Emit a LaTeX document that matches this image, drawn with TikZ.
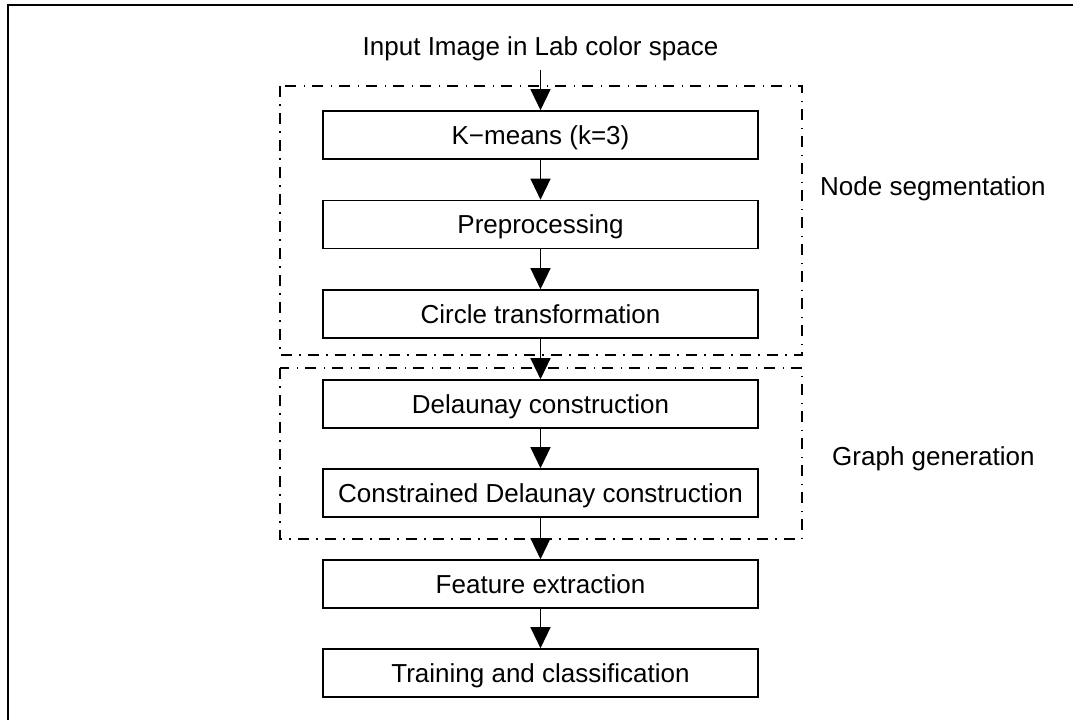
\documentclass[tikz,border=0pt]{standalone}
\usepackage{fontspec}
\setmainfont{Liberation Sans}
\usetikzlibrary{arrows.meta}

\begin{document}
\begin{tikzpicture}[x=1pt, y=-1pt,
  font=\fontsize{26}{31}\selectfont,
  stage/.style={draw, line width=1.6pt, minimum width=435pt, minimum height=48pt,
    inner sep=0pt, text height=18.5pt, text depth=0pt},
  flow/.style={line width=1.3pt, -{Triangle[width=20pt,length=21pt]}},
  group/.style={line width=1.5pt, dash pattern=on 11pt off 7pt on 1.5pt off 7.5pt}]
\useasboundingbox (0,0) rectangle (1073,720);

% outer frame
\draw[line width=2pt] (8,720) -- (8,5) -- (1073,5);

% processing stages
\node[inner sep=9.5pt, anchor=base] (input) at (540.5,55) {Input Image in Lab color space};
\node[stage] (kmeans) at (540.5,135) {K\textminus means (k=3)};
\node[stage] (prep) at (540.5,224.5) {Preprocessing};
\node[stage] (circ) at (540.5,314) {Circle transformation};
\node[stage] (delaunay) at (540.5,404) {Delaunay construction};
\node[stage] (cdelaunay) at (540.5,493) {Constrained Delaunay construction};
\node[stage] (feat) at (540.5,584) {Feature extraction};
\node[stage] (train) at (540.5,673) {Training and classification};

\draw[flow] (input) -- (kmeans);
\draw[flow] (kmeans) -- (prep);
\draw[flow] (prep) -- (circ);
\draw[flow] (circ) -- (delaunay);
\draw[flow] (delaunay) -- (cdelaunay);
\draw[flow] (cdelaunay) -- (feat);
\draw[flow] (feat) -- (train);

% dash-dotted groups
\draw[group] (280,86) rectangle (802,355);
\draw[group] (280,368) rectangle (802,539);
\node[anchor=base west, inner sep=0pt] (seglabel) at (820,195) {Node segmentation};
\node[anchor=base west, inner sep=0pt] (genlabel) at (832,465) {Graph generation};
\end{tikzpicture}
\end{document}
